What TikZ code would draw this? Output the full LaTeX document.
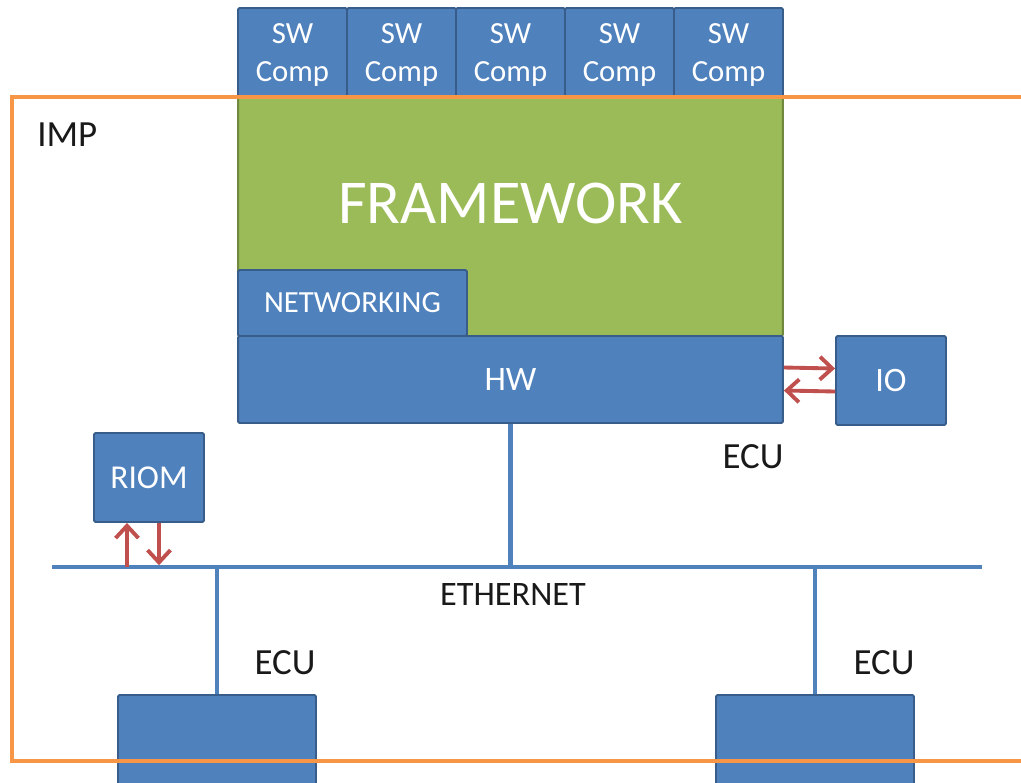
\documentclass[tikz,border=0pt]{standalone}
\usepackage{fontspec}
\setmainfont{Carlito}
\usetikzlibrary{arrows.meta}
\definecolor{boxblue}{HTML}{4F81BD}
\definecolor{boxedge}{HTML}{385D8A}
\definecolor{fwgreen}{HTML}{9BBB59}
\definecolor{fwedge}{HTML}{71893F}
\definecolor{impline}{HTML}{F79646}
\definecolor{linkred}{HTML}{C0504D}

\begin{document}
\begin{tikzpicture}[x=0.02cm, y=-0.02cm,
  blk/.style={draw=boxedge, fill=boxblue, line width=1.1pt, text=white, inner sep=0pt, rounded corners=0.8pt},
  swc/.style={blk, minimum width=2.18cm, minimum height=1.78cm, align=center, text depth=0pt, font=\fontsize{17.5}{21.5}\selectfont},
  lbl/.style={text=black!90, inner sep=0pt, font=\fontsize{21}{24}\selectfont},
  link/.style={draw=linkred, line width=2.2pt, -{Straight Barb[length=7pt,width=13pt]}},
  bus/.style={draw=boxblue, line width=2.5pt}]
\useasboundingbox (0,0) rectangle (1021,782);
\clip (0,0) rectangle (1021,782);

% ECU stack
\node[blk, draw=fwedge, fill=fwgreen, minimum width=10.9cm, minimum height=4.78cm,
  label={[text=white, inner sep=0pt, font=\fontsize{35.5}{40}\selectfont, yshift=0.27cm]center:FRAMEWORK}] (fw) at (510.5,216.5) {};
\node[blk, minimum width=4.58cm, minimum height=1.32cm, font=\fontsize{17.5}{20}\selectfont] (net) at (352.5,303) {NETWORKING};
\node[blk, minimum width=10.9cm, minimum height=1.74cm, font=\fontsize{19.5}{22}\selectfont] (hw) at (510.5,379.5) {HW};
\node[swc] (sw1) at (292.5,52.5) {SW\\Comp};
\node[swc] (sw2) at (401.5,52.5) {SW\\Comp};
\node[swc] (sw3) at (510.5,52.5) {SW\\Comp};
\node[swc] (sw4) at (619.5,52.5) {SW\\Comp};
\node[swc] (sw5) at (728.5,52.5) {SW\\Comp};

\node[blk, minimum width=2.2cm, minimum height=1.78cm, font=\fontsize{19.5}{22}\selectfont] (io) at (891,380.5) {IO};
\node[blk, minimum width=2.2cm, minimum height=1.78cm, font=\fontsize{19}{22}\selectfont] (riom) at (149,477.5) {RIOM};
\node[blk, minimum width=3.96cm, minimum height=3.3cm] (ecuL) at (217,777.5) {};
\node[blk, minimum width=3.96cm, minimum height=3.3cm] (ecuR) at (815,777.5) {};

% ethernet
\coordinate (ethW) at (52,567);
\coordinate (ethE) at (982,567);
\path[bus] (ethW) -- (ethE);
\path[bus] (hw.south) -- (hw.south |- ethW);
\path[bus] (ecuL.north) -- (ecuL.north |- ethW);
\path[bus] (ecuR.north) -- (ecuR.north |- ethW);

% io links
\path[link] ([yshift=0.24cm]hw.east) -- ([yshift=0.24cm]io.west);
\path[link] ([yshift=-0.22cm]io.west) -- ([yshift=-0.22cm]hw.east);
\coordinate (riomUp) at ([xshift=-0.44cm]riom.south);
\coordinate (riomDn) at ([xshift=0.2cm]riom.south);
\path[link] (riomUp |- ethW) -- (riomUp);
\path[link, shorten >=1pt] (riomDn) -- (riomDn |- ethW);

\node[lbl, anchor=west] (imp) at (37,135) {IMP};
\node[lbl] (ecuTop) at (753,457) {ECU};
\node[lbl] (ecuLlbl) at (285,663) {ECU};
\node[lbl] (ecuRlbl) at (884,663) {ECU};
\node[lbl, font=\fontsize{19.5}{22}\selectfont] (eth) at (513,594) {ETHERNET};

% IMP boundary
\draw[impline, line width=2.3pt] (12,97) rectangle (1060,761);
\end{tikzpicture}
\end{document}
